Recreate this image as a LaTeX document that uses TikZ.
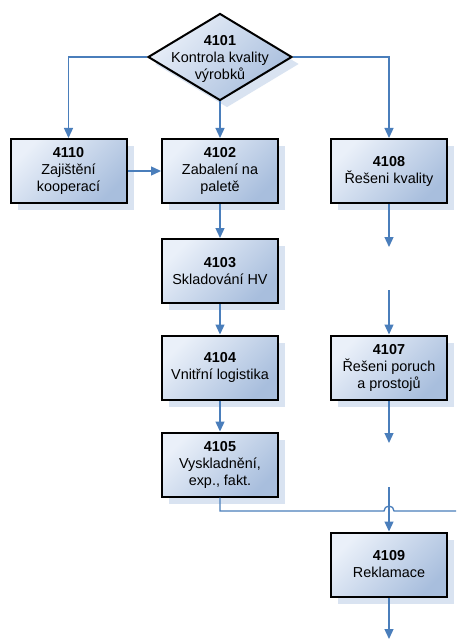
\documentclass[tikz,border=0pt]{standalone}
\usepackage{fontspec}
\setmainfont{Liberation Sans}
\usetikzlibrary{shapes.geometric,arrows.meta,shadows}
\definecolor{lineblue}{HTML}{4A7EBB}
\definecolor{fillA}{HTML}{EAF0F9}
\definecolor{fillB}{HTML}{A8BEDD}
\definecolor{shadowblue}{HTML}{D9E3F1}
\begin{document}
\begin{tikzpicture}[x=1pt,y=-1pt,
  txt/.style={align=center, font=\fontsize{14.4}{17}\selectfont},
  shadefill/.style={top color=fillA, bottom color=fillB, shading angle=45,
    drop shadow={shadow xshift=7pt, shadow yshift=-7pt, fill=shadowblue, opacity=1}},
  box/.style={draw=black, line width=2pt, minimum width=116pt, minimum height=64pt,
    inner sep=2pt, shadefill, txt},
  dia/.style={diamond, draw=black, line width=2pt, minimum width=144pt, minimum height=87pt,
    inner sep=0pt, shadefill},
  conn/.style={draw=lineblue, line width=1.3pt, -{Triangle[width=9pt,length=10pt]}},
  plain/.style={draw=lineblue, line width=1.3pt}]
\fill[white] (0,0) rectangle (456,639);
\useasboundingbox (0,0) rectangle (456,639);

\node[dia] (d) at (220,57) {};
\node[txt] (dt) at (220,59) {\textbf{4101}\\Kontrola kvality\\výrobků};

\node[box] (b4110) at (68.5,171) {\textbf{4110}\\Zajištění\\kooperací};
\node[box] (b4102) at (220,171) {\textbf{4102}\\Zabalení na\\paletě};
\node[box] (b4108) at (389,171) {\textbf{4108}\\Řešeni kvality};
\node[box] (b4103) at (220,271) {\textbf{4103}\\Skladování HV};
\node[box] (b4104) at (220,367.5) {\textbf{4104}\\Vnitřní logistika};
\node[box] (b4107) at (389,367.5) {\textbf{4107}\\Řešeni poruch\\a prostojů};
\node[box] (b4105) at (220,464.5) {\textbf{4105}\\Vyskladnění,\\exp., fakt.};
\node[box] (b4109) at (389,564.5) {\textbf{4109}\\Reklamace};

\coordinate (a1) at (389,247);
\coordinate (a2) at (389,290);
\coordinate (a3) at (389,443);
\coordinate (a4) at (389,487);
\coordinate (a5) at (389,639);
\coordinate (h1) at (384,511);
\coordinate (e1) at (456,511);

\draw[conn] (d.west) -| (b4110.north);
\draw[conn] (d.east) -| (b4108.north);
\draw[conn] (d.south) -- (b4102.north);
\draw[conn] (b4110.east) -- (b4102.west);
\draw[conn] (b4102.south) -- (b4103.north);
\draw[conn] (b4103.south) -- (b4104.north);
\draw[conn] (b4104.south) -- (b4105.north);
\draw[conn] (b4108.south) -- (a1);
\draw[conn] (a2) -- (b4107.north);
\draw[conn] (b4107.south) -- (a3);
\draw[conn] (a4) -- (b4109.north);
\draw[conn] (b4109.south) -- (a5);
\draw[plain] (b4105.south) |- (h1) arc[start angle=180, end angle=0, radius=5pt] -- (e1);
\end{tikzpicture}
\end{document}
